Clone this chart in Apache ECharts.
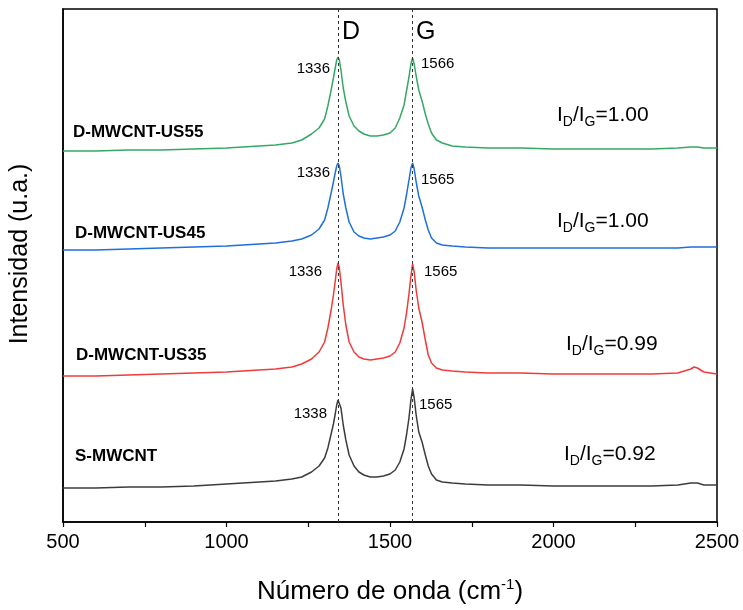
<!DOCTYPE html>
<html>
<head>
<meta charset="utf-8">
<script src="https://cdn.jsdelivr.net/npm/echarts@6/dist/echarts.min.js"></script>
<style>
  html, body { margin: 0; padding: 0; background: #fff; }
  #chart { width: 743px; height: 610px; }
</style>
</head>
<body>
<div id="chart"></div>
<script>
// Raman shift (cm-1), sampled more densely around the D and G bands
const waveNumbers = [500, 600, 700, 800, 900, 1000, 1050, 1100, 1150, 1200,
  1230, 1260, 1283, 1300, 1310, 1320, 1327, 1333, 1337, 1341,
  1345, 1350, 1357, 1365, 1375, 1390, 1405, 1420, 1440, 1460,
  1480, 1500, 1516, 1530, 1543, 1551, 1558, 1564, 1569, 1574,
  1580, 1588, 1598, 1608, 1617, 1627, 1642, 1660, 1690, 1730,
  1800, 1900, 2000, 2100, 2200, 2300, 2380, 2420, 2430, 2440,
  2460, 2500];

// stacked intensities (u.a.), already offset as in the figure
const us55 = [368, 368, 369, 369, 370, 371, 372, 373, 374, 376,
  379, 385, 391, 400, 413, 429, 441, 452, 459, 462,
  459, 449, 431, 417, 403, 393, 388, 385, 383, 383,
  384, 386, 391, 401, 414, 429, 442, 455, 461, 455,
  443, 429, 418, 405, 395, 386, 379, 376, 373, 372,
  371, 371, 370, 370, 370, 370, 371, 372, 372, 372,
  371, 371];
const us45 = [269, 269, 270, 271, 272, 273, 274, 275, 276, 278,
  280, 284, 290, 299, 311, 326, 337, 347, 353, 356,
  353, 343, 325, 311, 297, 287, 283, 281, 280, 281,
  282, 284, 288, 297, 311, 325, 339, 351, 356, 350,
  337, 323, 312, 299, 289, 281, 276, 274, 273, 272,
  271, 271, 271, 271, 271, 271, 271, 272, 272, 272,
  272, 272];
const us35 = [143, 143, 144, 145, 146, 147, 148, 149, 150, 152,
  155, 160, 167, 177, 191, 209, 224, 239, 250, 256,
  251, 237, 214, 194, 177, 167, 162, 160, 159, 160,
  161, 163, 167, 176, 191, 207, 225, 243, 255, 247,
  229, 211, 197, 179, 164, 156, 151, 149, 148, 147,
  146, 146, 145, 145, 145, 145, 146, 150, 152, 151,
  147, 145];
const sMwcnt = [31, 31, 32, 32, 33, 35, 36, 37, 38, 40,
  42, 47, 53, 61, 71, 85, 95, 106, 114, 119,
  120, 111, 94, 79, 64, 53, 47, 44, 42, 42,
  43, 45, 49, 57, 70, 85, 101, 119, 130, 121,
  104, 87, 77, 64, 53, 45, 39, 37, 36, 35,
  34, 34, 33, 33, 33, 33, 34, 36, 36, 36,
  34, 34];

const sampleNames = ['D-MWCNT-US55', 'D-MWCNT-US45', 'D-MWCNT-US35', 'S-MWCNT'];
const ratios = ['1.00', '1.00', '0.99', '0.92'];
const dPeaks = ['1336', '1336', '1336', '1338'];
const gPeaks = ['1566', '1565', '1565', '1565'];
const colors = ['#34a864', '#1f6fdc', '#ef3b3b', '#3c3c3c'];
const xTicks = [500, 1000, 1500, 2000, 2500];
const bandLines = [1341, 1569];

const FONT = '"Liberation Sans", Arial, Helvetica, sans-serif';

function pairs(ys) {
  return waveNumbers.map((w, i) => [w, ys[i]]);
}

// annotation placement (pixels)
const namePos = [[73, 132], [75, 233], [76, 355], [75, 456]];
const ratioPos = [[557, 115], [557, 221], [566, 344], [564, 454]];
const dPos = [[330, 69], [330, 173], [322, 272], [327, 414]];
const gPos = [[421, 64], [421, 180], [424, 272], [419, 405]];

const graphics = [];
sampleNames.forEach((n, i) => {
  graphics.push({ type: 'text', x: namePos[i][0], y: namePos[i][1],
    style: { text: n, fontFamily: FONT, fontSize: 17, fontWeight: 'bold', fill: '#000', verticalAlign: 'middle' } });
  graphics.push({ type: 'text', x: ratioPos[i][0], y: ratioPos[i][1],
    style: {
      text: '{i|I}{s|D}{i|/I}{s|G}{i|=' + ratios[i] + '}', verticalAlign: 'middle',
      rich: {
        i: { fontFamily: FONT, fontSize: 21, fill: '#000', lineHeight: 30, verticalAlign: 'middle' },
        s: { fontFamily: FONT, fontSize: 14, fill: '#000', lineHeight: 30, verticalAlign: 'bottom', padding: [0, 0, 1, 0] }
      }
    } });
  graphics.push({ type: 'text', x: dPos[i][0], y: dPos[i][1],
    style: { text: dPeaks[i], fontFamily: FONT, fontSize: 15, fill: '#000', align: 'right', verticalAlign: 'middle' } });
  graphics.push({ type: 'text', x: gPos[i][0], y: gPos[i][1],
    style: { text: gPeaks[i], fontFamily: FONT, fontSize: 15, fill: '#000', align: 'left', verticalAlign: 'middle' } });
});
// band letters
graphics.push({ type: 'text', x: 342, y: 32, style: { text: 'D', fontFamily: FONT, fontSize: 25, fill: '#000', verticalAlign: 'middle' } });
graphics.push({ type: 'text', x: 416, y: 32, style: { text: 'G', fontFamily: FONT, fontSize: 25, fill: '#000', verticalAlign: 'middle' } });
// axis titles
graphics.push({ type: 'text', x: 20, y: 254, rotation: Math.PI / 2,
  style: { text: 'Intensidad (u.a.)', fontFamily: FONT, fontSize: 25, fill: '#000', align: 'center', verticalAlign: 'middle' } });
graphics.push({ type: 'text', x: 390, y: 592,
  style: {
    text: '{a|Número de onda (cm}{s|-1}{a|)}', align: 'center', verticalAlign: 'middle',
    rich: {
      a: { fontFamily: FONT, fontSize: 26, fill: '#000', lineHeight: 30, verticalAlign: 'middle' },
      s: { fontFamily: FONT, fontSize: 15, fill: '#000', lineHeight: 30, verticalAlign: 'top' }
    }
  } });

const seriesData = [us55, us45, us35, sMwcnt];
const series = seriesData.map((ys, i) => ({
  name: sampleNames[i],
  type: 'line',
  data: pairs(ys),
  showSymbol: false,
  smooth: false,
  lineStyle: { color: colors[i], width: 1.5 },
  z: 3
}));
// dashed D / G reference lines
series[0].markLine = {
  silent: true,
  symbol: 'none',
  label: { show: false },
  lineStyle: { color: '#333', type: [3, 3], width: 1 },
  data: bandLines.map(v => ({ xAxis: v }))
};

const chart = echarts.init(document.getElementById('chart'), null, { renderer: 'canvas' });
chart.setOption({
  animation: false,
  backgroundColor: '#fff',
  grid: { left: 63, right: 26, top: 9, bottom: 88, show: true, borderColor: '#000', borderWidth: 1.5 },
  xAxis: {
    type: 'value',
    min: xTicks[0],
    max: xTicks[xTicks.length - 1],
    interval: 500,
    axisLine: { show: true, onZero: false, lineStyle: { color: '#000', width: 1.5 } },
    axisTick: { show: true, inside: false, length: 5, lineStyle: { color: '#000', width: 1.2 } },
    minorTick: { show: true, splitNumber: 2, length: 5, lineStyle: { color: '#000', width: 1.2 } },
    axisLabel: { fontFamily: FONT, fontSize: 20, color: '#000', margin: 10, formatter: v => String(v) },
    splitLine: { show: false }
  },
  yAxis: {
    type: 'value',
    min: -3,
    max: 510,
    axisLine: { show: true, lineStyle: { color: '#000', width: 1.5 } },
    axisTick: { show: false },
    axisLabel: { show: false },
    splitLine: { show: false }
  },
  series: series,
  graphic: graphics
});
</script>
</body>
</html>
